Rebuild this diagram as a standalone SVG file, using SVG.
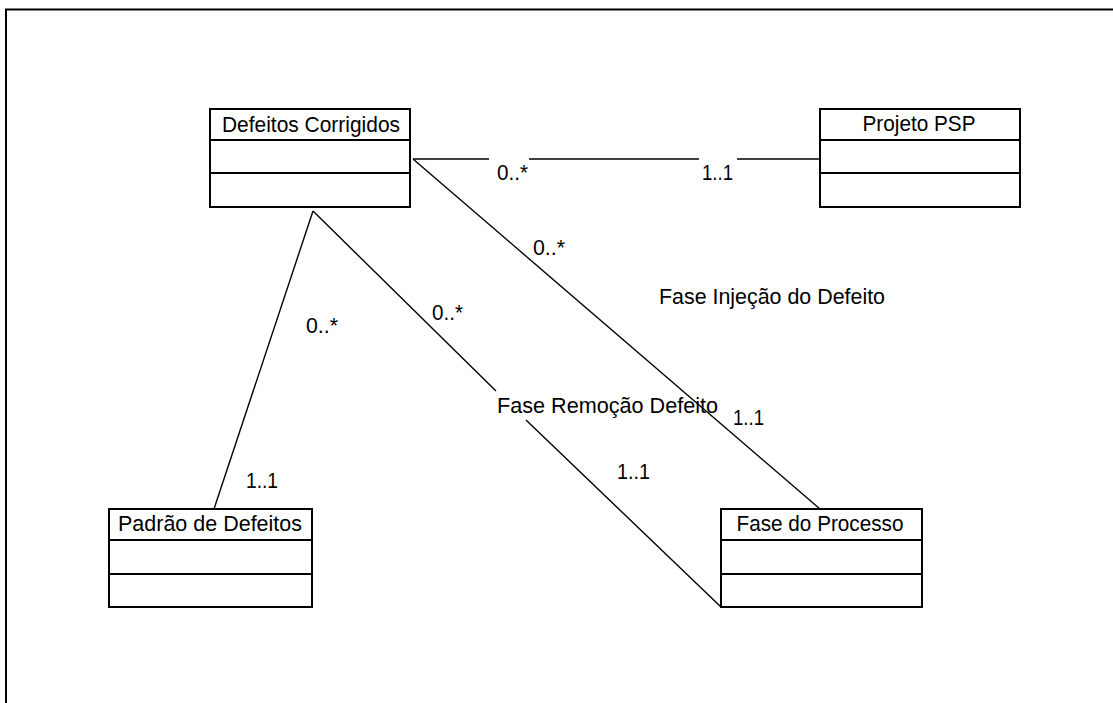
<svg xmlns="http://www.w3.org/2000/svg" width="1113" height="703" viewBox="0 0 1113 703">
  <style>
    .frame { fill: none; stroke: #000; stroke-width: 2; }
    .box { fill: #fff; stroke: #000; stroke-width: 2; }
    .sep { stroke: #000; stroke-width: 2; }
    .conn { fill: none; stroke: #000; stroke-width: 1.4; }
    .title { font-family: "Liberation Sans", Arial, sans-serif; font-size: 22px; fill: #000; text-anchor: middle; }
    .lbl { font-family: "Liberation Sans", Arial, sans-serif; font-size: 22px; fill: #000; }
  </style>

  <rect width="1113" height="703" fill="#fff"/>

  <!-- drawing frame: top and left edges -->
  <path class="frame" d="M6,703 V9.5 H1113"/>

  <!-- associations -->
  <g id="connectors">
    <!-- Defeitos Corrigidos - Projeto PSP -->
    <path class="conn" d="M413,159 H489 M529,159 H699 M737,159 H820"/>
    <!-- Defeitos Corrigidos - Fase do Processo (injection phase) -->
    <path class="conn" d="M413,159 L820,509"/>
    <!-- Defeitos Corrigidos - Padrão de Defeitos -->
    <path class="conn" d="M313,211 L214,509"/>
    <!-- Defeitos Corrigidos - Fase do Processo (removal phase) -->
    <path class="conn" d="M313,211 L496,391 M526,420 L721,607"/>

    <text class="lbl" x="497" y="180" textLength="31" lengthAdjust="spacingAndGlyphs">0..*</text>
    <text class="lbl" x="702" y="180" textLength="31" lengthAdjust="spacingAndGlyphs">1..1</text>
    <text class="lbl" x="533" y="255" textLength="32" lengthAdjust="spacingAndGlyphs">0..*</text>
    <text class="lbl" x="659" y="304" textLength="226" lengthAdjust="spacingAndGlyphs">Fase Injeção do Defeito</text>
    <text class="lbl" x="733" y="425" textLength="31" lengthAdjust="spacingAndGlyphs">1..1</text>
    <text class="lbl" x="432" y="320" textLength="31" lengthAdjust="spacingAndGlyphs">0..*</text>
    <text class="lbl" x="497" y="413" textLength="221" lengthAdjust="spacingAndGlyphs">Fase Remoção Defeito</text>
    <text class="lbl" x="617" y="479" textLength="33" lengthAdjust="spacingAndGlyphs">1..1</text>
    <text class="lbl" x="306" y="333" textLength="32" lengthAdjust="spacingAndGlyphs">0..*</text>
    <text class="lbl" x="246" y="488" textLength="32" lengthAdjust="spacingAndGlyphs">1..1</text>
  </g>

  <!-- classes -->
  <g id="defeitos-corrigidos">
    <rect class="box" x="210" y="109" width="200" height="98"/>
    <line class="sep" x1="210" y1="140" x2="410" y2="140"/>
    <line class="sep" x1="210" y1="173" x2="410" y2="173"/>
    <text class="title" x="311" y="132" textLength="178" lengthAdjust="spacingAndGlyphs">Defeitos Corrigidos</text>
  </g>

  <g id="projeto-psp">
    <rect class="box" x="820" y="109" width="200" height="98"/>
    <line class="sep" x1="820" y1="140" x2="1020" y2="140"/>
    <line class="sep" x1="820" y1="173" x2="1020" y2="173"/>
    <text class="title" x="919" y="131" textLength="113" lengthAdjust="spacingAndGlyphs">Projeto PSP</text>
  </g>

  <g id="padrao-de-defeitos">
    <rect class="box" x="109" y="509" width="203" height="98"/>
    <line class="sep" x1="109" y1="540" x2="312" y2="540"/>
    <line class="sep" x1="109" y1="574" x2="312" y2="574"/>
    <text class="title" x="210" y="531" textLength="184" lengthAdjust="spacingAndGlyphs">Padrão de Defeitos</text>
  </g>

  <g id="fase-do-processo">
    <rect class="box" x="721" y="509" width="201" height="98"/>
    <line class="sep" x1="721" y1="540" x2="922" y2="540"/>
    <line class="sep" x1="721" y1="574" x2="922" y2="574"/>
    <text class="title" x="820" y="531" textLength="167" lengthAdjust="spacingAndGlyphs">Fase do Processo</text>
  </g>
</svg>
